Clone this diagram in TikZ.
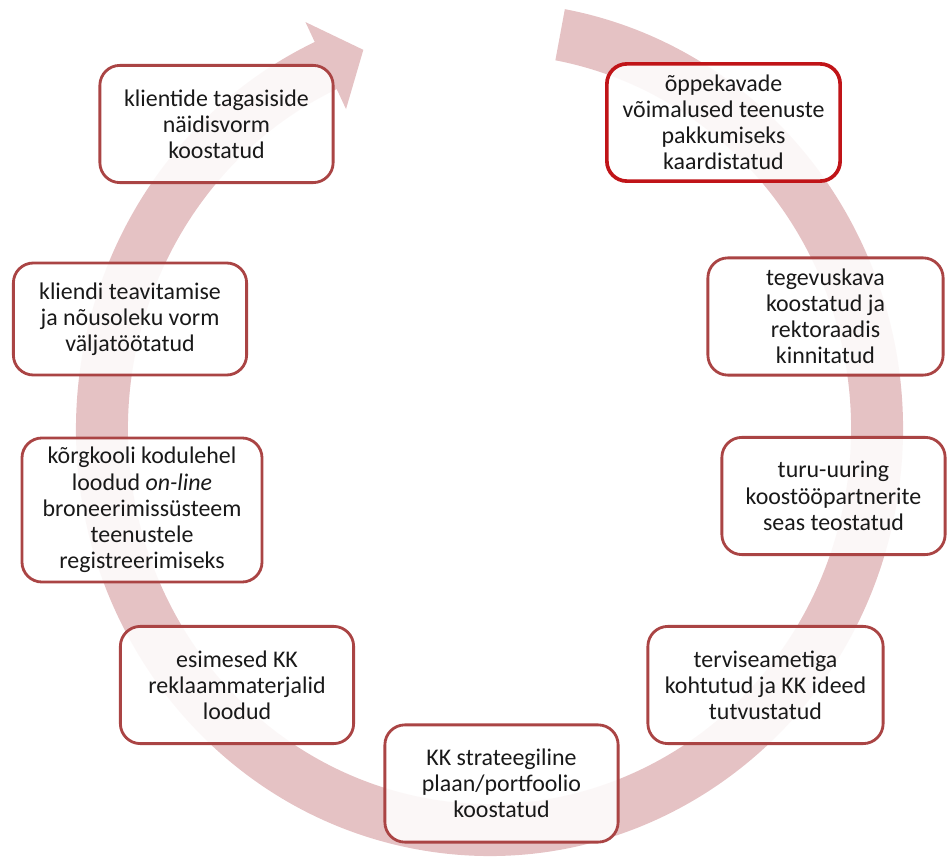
\documentclass[tikz,border=0pt]{standalone}
\usepackage{fontspec}
\setmainfont{Carlito}
\usetikzlibrary{calc,positioning}

\definecolor{kaar}{RGB}{229,194,196}
\definecolor{raam}{RGB}{170,68,68}
\definecolor{raamtume}{RGB}{192,20,24}

\begin{document}
\begin{tikzpicture}[x=.025cm,y=.025cm,
  etapp/.style={draw=raam,line width=2pt,rounded corners=.5cm,fill=white,fill opacity=.88,text opacity=1,
    align=center,inner sep=0pt,minimum width=5.83cm,minimum height=2.93cm,text=black!90,
    font=\fontsize{17}{18.6}\selectfont}]
\useasboundingbox (0,0) rectangle (947,863);
\coordinate (m) at (489.5,434);
% ring arrow
\fill[kaar] ($(m)+(79.5:413.5 and 427)$) arc[start angle=79.5,end angle=-245,x radius=413.5,y radius=427]
  -- ($(m)+(-245:435.5 and 449)$) -- ($(m)+(-251:387.5 and 401)$) -- ($(m)+(-245:339.5 and 353)$)
  -- ($(m)+(-245:361.5 and 375)$) arc[start angle=-245,end angle=79.5,x radius=361.5,y radius=375] -- cycle;
% steps
\node[etapp] (tagasiside) at (216.5,739) {klientide tagasiside\\näidisvorm\\koostatud};
\node[etapp,draw=raamtume,line width=2.6pt] (oppekavad) at (723.5,740.5) {õppekavade\\võimalused teenuste\\pakkumiseks\\kaardistatud};
\node[etapp,minimum width=5.88cm] (tegevuskava) at (825.5,546.5) {tegevuskava\\koostatud ja\\rektoraadis\\kinnitatud};
\node[etapp,minimum width=5.58cm] (turuuuring) at (833.5,367) {turu-uuring\\koostööpartnerite\\seas teostatud};
\node[etapp,minimum width=5.88cm] (terviseamet) at (765.5,178) {terviseametiga\\kohtutud ja KK ideed\\tutvustatud};
\node[etapp] (strateegia) at (501.5,79.5) {KK strateegiline\\plaan/portfoolio\\koostatud};
\node[etapp] (reklaam) at (237,178) {esimesed KK\\reklaammaterjalid\\loodud};
\node[etapp,minimum width=6cm,minimum height=3.6cm] (broneerimine) at (142,353) {kõrgkooli kodulehel\\loodud \textit{on-line}\\broneerimissüsteem\\teenustele\\registreerimiseks};
\node[etapp,minimum height=2.8cm] (teavitamine) at (130,544) {kliendi teavitamise\\ja nõusoleku vorm\\väljatöötatud};
\end{tikzpicture}
\end{document}
